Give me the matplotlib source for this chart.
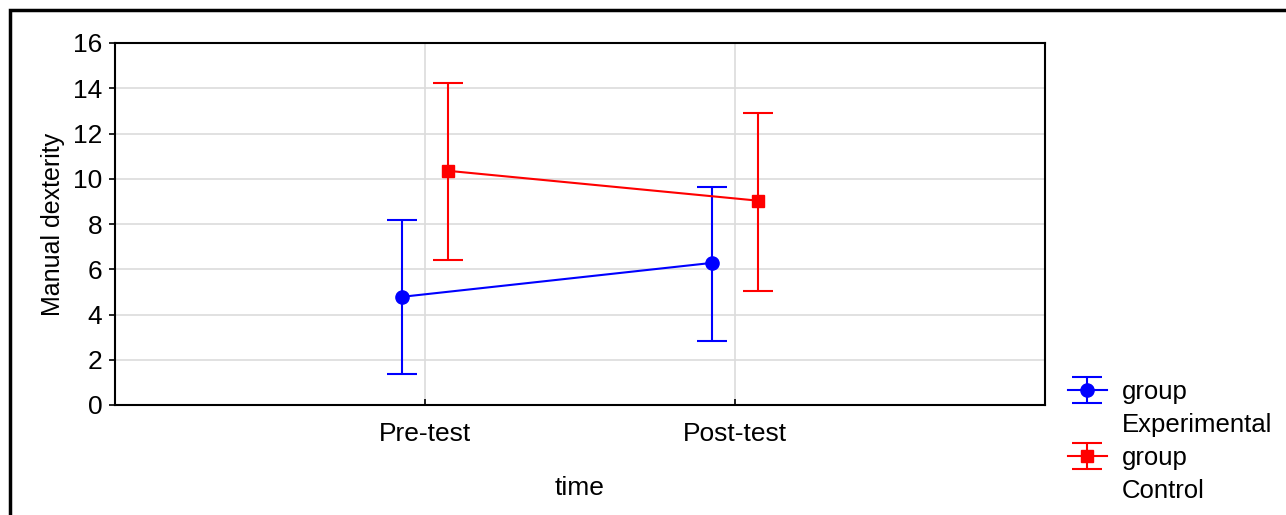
import matplotlib
matplotlib.use("Agg")
import matplotlib.pyplot as plt
from matplotlib.patches import Rectangle
from matplotlib.lines import Line2D
import numpy as np

plt.rcParams['font.family'] = ['Liberation Sans', 'DejaVu Sans']

categories = ["Pre-test", "Post-test"]
exp_mean = [4.78, 6.28]
exp_low = [1.35, 2.85]
exp_high = [8.18, 9.65]
ctl_mean = [10.35, 9.03]
ctl_low = [6.42, 5.05]
ctl_high = [14.25, 12.92]
legend_lines = ["group", "Experimental", "group", "Control"]

fig = plt.figure(figsize=(12.86, 5.15), dpi=100)
ax = fig.add_axes([115/1286, 1 - 405/515, (1045-115)/1286, (405-43)/515])

x = np.arange(1, len(categories) + 1)
off = 0.075

def draw(xpos, mean, low, high, color, marker, ms):
    mean = np.array(mean); low = np.array(low); high = np.array(high)
    yerr = [mean - low, high - mean]
    return ax.errorbar(xpos, mean, yerr=yerr, color=color, marker=marker, ms=ms,
                       lw=1.5, elinewidth=1.5, capsize=11, capthick=1.5, zorder=3)

h_exp = draw(x - off, exp_mean, exp_low, exp_high, '#0000ff', 'o', 9.5)
h_ctl = draw(x + off, ctl_mean, ctl_low, ctl_high, '#ff0000', 's', 9)

ax.set_xlim(0, 3)
ax.set_ylim(0, 16)
ax.set_yticks(np.arange(0, 17, 2))
ax.set_xticks(x)
ax.set_xticklabels(categories)
ax.grid(True, color='#dcdcdc', lw=1.2)
ax.set_axisbelow(True)
for s in ax.spines.values():
    s.set_linewidth(1.5)
ax.tick_params(axis='y', labelsize=19, direction='out', length=4, width=1.2, pad=5)
ax.tick_params(axis='x', labelsize=19, direction='in', length=4, width=1.2, pad=12)
ax.set_ylabel("Manual dexterity", fontsize=18, labelpad=6)
ax.set_xlabel("time", fontsize=19, labelpad=22)

blank = Line2D([], [], lw=0, alpha=0)
leg = ax.legend([h_exp, blank, h_ctl, blank], legend_lines,
                loc='upper left', bbox_to_anchor=(1068/1286, 1 - 380/515),
                bbox_transform=fig.transFigure, frameon=False, fontsize=18.5,
                handlelength=1.5, handletextpad=0.58, labelspacing=0.35,
                borderaxespad=0, borderpad=0)

fig.patches.append(Rectangle((10/1286, -0.1), 1.2, 1 - 10/515 + 0.1,
                             transform=fig.transFigure, fill=False, ec='black', lw=2.5))

fig.savefig("out.png", dpi=100)
